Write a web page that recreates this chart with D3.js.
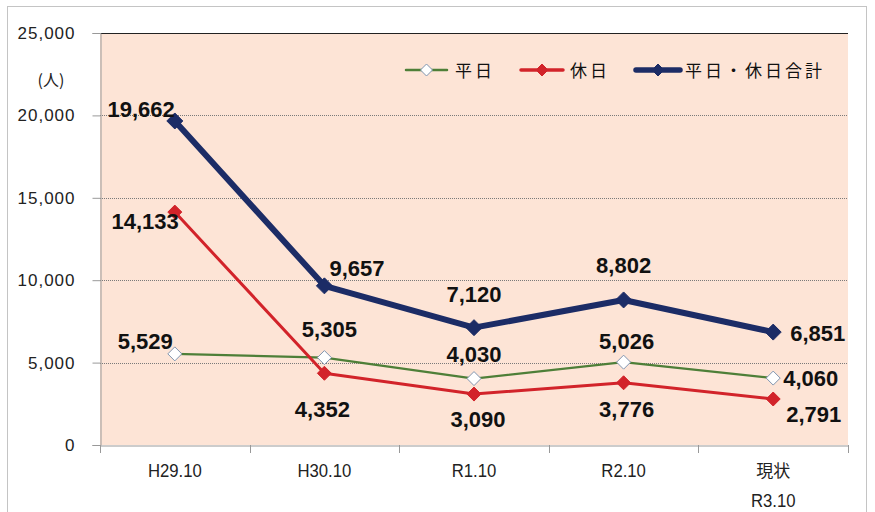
<!DOCTYPE html>
<html><head><meta charset="utf-8">
<script src="https://cdn.jsdelivr.net/npm/d3@7"></script>
<style>
html,body{margin:0;padding:0;background:#fff;}
svg{display:block;}
</style></head>
<body>
<svg id="chart" width="875" height="512"></svg>
<script>
const categories = ["H29.10", "H30.10", "R1.10", "R2.10", "現状\nR3.10"];
const weekday = [5529, 5305, 4030, 5026, 4060];
const holiday = [14133, 4352, 3090, 3776, 2791];
const total = [19662, 9657, 7120, 8802, 6851];
const seriesNames = ["平日", "休日", "平日・休日合計"];
const yTicks = [0, 5000, 10000, 15000, 20000, 25000];
const yUnit = "(人)";

// label placement per point: [anchor, dx, dy]
const placeWeekday = [["end",-2,-5],["middle",5,-21],["middle",0,-17],["middle",3,-13],["start",10,8]];
const placeHoliday = [["end",4,17],["middle",-2,44],["middle",4,33],["middle",3,34],["start",13,23]];
const placeTotal = [["end",0,-4],["start",5,-10],["middle",0,-26],["middle",0,-27],["start",17,9]];

const svg = d3.select("#chart");
const L = 100, R = 848, T = 33, B = 445;

// outer border
svg.append("rect").attr("x",7.5).attr("y",6.5).attr("width",859).attr("height",520)
  .attr("fill","none").attr("stroke","#888").attr("stroke-dasharray","1,1");

const x = d3.scaleBand().domain(categories).range([L, R]);
const y = d3.scaleLinear().domain([0, 25000]).range([B, T]);

// plot background
svg.append("rect").attr("x",L).attr("y",T).attr("width",R-L).attr("height",B-T).attr("fill","#fde4d6");

// grid
svg.append("g").selectAll("line").data(yTicks.filter(d=>d>0 && d<25000)).join("line")
  .attr("x1",L).attr("x2",R).attr("y1",d=>Math.round(y(d))+0.5).attr("y2",d=>Math.round(y(d))+0.5)
  .attr("stroke","#7a7a7a").attr("stroke-width",1).attr("stroke-dasharray","1,1");
svg.append("line").attr("x1",L).attr("x2",R).attr("y1",T+0.5).attr("y2",T+0.5).attr("stroke","#222").attr("stroke-width",1);

// y axis
const yAxis = d3.axisLeft(y).tickValues(yTicks).tickSize(8).tickFormat(d3.format(","));
const gy = svg.append("g").attr("transform",`translate(${L+0.5},0)`).call(yAxis);
gy.select(".domain").attr("stroke","#999");
gy.selectAll(".tick line").attr("stroke","#999");
gy.selectAll(".tick text").attr("x",-25).attr("font-family","Liberation Sans, Arial, sans-serif")
  .attr("font-size",17).attr("fill","#222").attr("letter-spacing","1");

svg.append("text").attr("x",51).attr("y",86).attr("text-anchor","middle")
  .attr("font-family","Noto Sans CJK JP").attr("font-size",16).attr("fill","#222").text(yUnit);

// x axis
const xAxis = d3.axisBottom(x).tickSize(0).tickFormat("");
const gx = svg.append("g").attr("transform",`translate(0,${B+0.5})`).call(xAxis);
gx.select(".domain").attr("stroke","#999");
const bounds = categories.map(c=>x(c)).concat([R]);
svg.append("g").selectAll("line").data(bounds).join("line")
  .attr("x1",d=>Math.round(d)+0.5).attr("x2",d=>Math.round(d)+0.5).attr("y1",B).attr("y2",B+8)
  .attr("stroke","#999");
const cx = c => x(c) + x.bandwidth()/2;
categories.forEach(c => {
  c.split("\n").forEach((ln,i)=>{
    const cjk = /[^\x00-\x7f]/.test(ln);
    svg.append("text").attr("text-anchor","middle").attr("fill","#222")
      .attr("transform",`translate(${cx(c)},${477+i*30}) scale(${cjk?1:0.88},1)`)
      .attr("font-family", cjk ? "Noto Sans CJK JP" : "Liberation Sans, Arial, sans-serif")
      .attr("font-size", cjk ? 17 : 19).text(ln);
  });
});

const diamond = r => `M0,${-r}L${r},0L0,${r}L${-r},0Z`;
function drawSeries(vals, color, width, r, fill, stroke, place) {
  const pts = vals.map((v,i)=>[cx(categories[i]), y(v)]);
  svg.append("path").datum(pts).attr("d", d3.line()).attr("fill","none")
    .attr("stroke",color).attr("stroke-width",width).attr("stroke-linejoin","round");
  svg.append("g").selectAll("path").data(pts).join("path")
    .attr("transform",d=>`translate(${d[0]},${d[1]})`)
    .attr("d", diamond(r)).attr("fill",fill).attr("stroke",stroke).attr("stroke-width",1);
  svg.append("g").selectAll("text").data(vals).join("text")
    .attr("x",(d,i)=>pts[i][0]+place[i][1]).attr("y",(d,i)=>pts[i][1]+place[i][2])
    .attr("text-anchor",(d,i)=>place[i][0])
    .attr("font-family","Liberation Sans, Arial, sans-serif").attr("font-weight","bold")
    .attr("font-size",22).attr("fill","#111")
    .text(d=>d3.format(",")(d));
}
drawSeries(weekday, "#4e7f38", 2.2, 7, "#fff", "#8095b0", placeWeekday);
drawSeries(holiday, "#d2232a", 3, 7, "#d2232a", "#d2232a", placeHoliday);
drawSeries(total, "#1c2c66", 6, 8, "#1c2c66", "#1c2c66", placeTotal);

// legend
const legend = [
  {name:seriesNames[0], color:"#4e7f38", w:2.5, fill:"#fff", stroke:"#8095b0", x1:406, x2:447, tx:455},
  {name:seriesNames[1], color:"#d2232a", w:3.5, fill:"#d2232a", stroke:"#d2232a", x1:521, x2:563, tx:570},
  {name:seriesNames[2], color:"#1c2c66", w:5.5, fill:"#1c2c66", stroke:"#1c2c66", x1:636, x2:680, tx:685},
];
const ly = 70;
legend.forEach(l=>{
  svg.append("line").attr("x1",l.x1).attr("x2",l.x2).attr("y1",ly).attr("y2",ly)
    .attr("stroke",l.color).attr("stroke-width",l.w).attr("stroke-linecap","round");
  svg.append("path").attr("transform",`translate(${(l.x1+l.x2)/2},${ly})`)
    .attr("d", diamond(6)).attr("fill",l.fill).attr("stroke",l.stroke);
  svg.append("text").attr("x",l.tx).attr("y",ly+7).attr("font-family","Noto Sans CJK JP")
    .attr("font-size",17).attr("letter-spacing","3").attr("fill","#111").text(l.name);
});
</script>
</body></html>
